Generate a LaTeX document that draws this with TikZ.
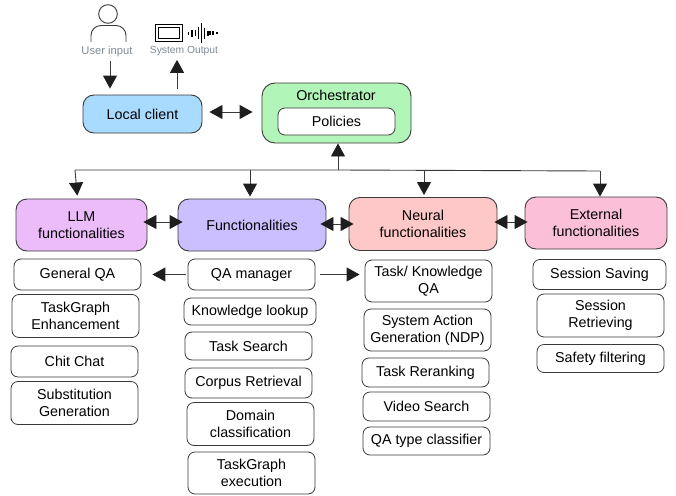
\documentclass[tikz,border=0pt]{standalone}
\usepackage{fontspec}
\setmainfont{Liberation Sans}
\usepackage{xcolor}
\usetikzlibrary{arrows.meta}
\definecolor{clientblue}{HTML}{A9DBFF}
\definecolor{orchgreen}{HTML}{B2F5B8}
\definecolor{llmpurple}{HTML}{ECBCFA}
\definecolor{funcviolet}{HTML}{CCBFFF}
\definecolor{neuralred}{HTML}{FFC8C8}
\definecolor{extpink}{HTML}{FBBFD8}
\definecolor{linegray}{HTML}{3A3A3A}
\definecolor{tipblack}{HTML}{1E1E1E}
\definecolor{labelgray}{HTML}{7F8A94}
\tikzset{
x=1pt, y=-1pt, % pixel coordinates of the layout
headbox/.style={draw=linegray, line width=0.9pt, rounded corners=11pt, inner sep=0pt, align=center, font=\fontsize{14.3}{17}\selectfont}, % coloured boxes
itembox/.style={draw=linegray, line width=0.8pt, rounded corners=7pt, fill=white, inner sep=0pt, minimum width=127pt, align=center, font=\fontsize{14.3}{17}\selectfont}, % white boxes
bigtip/.tip={Triangle[length=13pt, width=14pt, color=tipblack, fill=tipblack]},
conn/.style={draw=linegray, line width=0.9pt, -bigtip}, % one head
biconn/.style={draw=linegray, line width=0.9pt, bigtip-bigtip}, % two heads
graylabel/.style={text=labelgray, inner sep=0pt},
}

\begin{document}
\begin{tikzpicture}
\useasboundingbox (0,0) rectangle (676,495);
% top icons
\draw[linegray, line width=0.9pt] (108,14) circle (9.3);
\draw[linegray, line width=0.9pt, rounded corners=10pt] (91,42) -- (91,25.5) -- (126,25.5) -- (126,42);
\draw[black, line width=1.5pt] (155.5,24.5) rectangle (182.5,41.5);
\draw[black, line width=1.1pt] (158.5,27.5) rectangle (179.5,38.5);
\foreach \px/\ph in {188.5/1.5, 192/3.5, 195.5/3, 198.5/6, 201.5/10, 204.5/5.5, 208/2.5, 210/2, 213/2, 217/1}
  \draw[black, line width=1.1pt] (\px,33.5-\ph) -- (\px,33.5+\ph);
\node[graylabel, font=\fontsize{11.2}{13}\selectfont] (userinput) at (107,52) {User input};
\node[graylabel, font=\fontsize{10.3}{12}\selectfont] (sysoutput) at (184,51) {System Output};
% main boxes
\node[headbox, fill=clientblue, minimum width=119pt, minimum height=38pt] (client) at (142.5,114) {Local client};
\node[headbox, fill=orchgreen, minimum width=149pt, minimum height=60pt, rounded corners=13pt] (orch) at (336.5,113) {};
\node[inner sep=0pt, font=\fontsize{14.3}{17}\selectfont] (orchtitle) at (336,95) {Orchestrator};
\node[itembox, minimum width=117pt, minimum height=27pt] (policies) at (336.5,121.5) {Policies};
\node[headbox, fill=llmpurple, minimum width=131pt, minimum height=52pt] (llm) at (81.5,225) {LLM\\functionalities};
\node[headbox, fill=funcviolet, minimum width=148pt, minimum height=52pt] (func) at (252,225) {Functionalities};
\node[headbox, fill=neuralred, minimum width=148pt, minimum height=53pt] (neural) at (423,224) {Neural\\functionalities};
\node[headbox, fill=extpink, minimum width=142pt, minimum height=52pt] (ext) at (596,223) {External\\functionalities};
% LLM column
\node[itembox, minimum height=31pt] (generalqa) at (77.5,274.5) {General QA};
\node[itembox, minimum height=43pt] (enhance) at (75.5,316) {TaskGraph\\Enhancement};
\node[itembox, minimum height=31pt] (chitchat) at (74.5,361.5) {Chit Chat};
\node[itembox, minimum height=43pt] (substitution) at (74.5,403) {Substitution\\Generation};
% functionalities column
\node[itembox, minimum height=31pt] (qamanager) at (251.5,274.5) {QA manager};
\node[itembox, minimum width=132pt, minimum height=27pt] (lookup) at (250,311.5) {Knowledge lookup};
\node[itembox, minimum height=28pt] (tasksearch) at (248.5,346) {Task Search};
\node[itembox, minimum height=30pt] (corpus) at (248.5,383) {Corpus Retrieval};
\node[itembox, minimum height=43pt] (domain) at (250.5,424) {Domain\\classification};
\node[itembox, minimum height=42pt] (execution) at (251.5,473) {TaskGraph\\execution};
% neural column
\node[itembox, minimum height=42pt] (taskqa) at (428.5,281) {Task/ Knowledge\\QA};
\node[itembox, minimum height=42pt] (sysaction) at (427.5,330) {System Action\\Generation (NDP)};
\node[itembox, minimum height=29pt] (rerank) at (425.5,372.5) {Task Reranking};
\node[itembox, minimum height=29pt] (video) at (426.5,406.5) {Video Search};
\node[itembox, minimum height=28pt] (qatype) at (426.5,441) {QA type classifier};
% external column
\node[itembox, minimum width=133pt, minimum height=30pt] (saving) at (599.5,274.5) {Session Saving};
\node[itembox, minimum height=43pt] (retrieving) at (600.5,315.5) {Session\\Retrieving};
\node[itembox, minimum height=28pt] (safety) at (600.5,358.5) {Safety filtering};
% connectors
\coordinate (userend) at (110,61);
\coordinate (outstart) at (177,89);
\coordinate (bus) at (338,170);
\coordinate (busllm) at (75,170);
\coordinate (busfunc) at (250,170);
\coordinate (busneural) at (424,171);
\coordinate (busext) at (600,171);
\draw[conn, shorten >=6pt] (userend) -- (userend |- client.north);
\draw[conn, shorten >=4pt] (outstart) -- (outstart |- sysoutput.south);
\draw[biconn, shorten <=7pt, shorten >=9pt] (client.east |- 0,112) -- (orch.west |- 0,112);
\draw[conn] (bus) -- (bus |- orch.south);
\draw[draw=linegray, line width=0.9pt] (busllm) -- (bus) -- (busext);
\draw[conn, shorten >=3pt] (busllm) -- ([xshift=-4pt]llm.north);
\draw[conn, shorten >=2pt] (busfunc) -- (busfunc |- func.north);
\draw[conn, shorten >=2pt] (busneural) -- (busneural |- neural.north);
\draw[conn] (busext) -- (busext |- ext.north);
\draw[biconn, shorten <=-4pt, shorten >=-5pt] (llm.east |- 0,222) -- (func.west |- 0,222);
\draw[biconn, shorten <=-6pt, shorten >=-5pt] (func.east |- 0,224) -- (neural.west |- 0,224);
\draw[biconn, shorten <=-3pt, shorten >=-3pt] (neural.east |- 0,222) -- (ext.west |- 0,222);
\draw[conn, shorten <=2pt, shorten >=11pt] (qamanager) -- (qamanager -| generalqa.east);
\draw[conn, shorten <=5pt, shorten >=5pt] (qamanager.east) -- (taskqa.west |- qamanager);
\end{tikzpicture}
\end{document}
